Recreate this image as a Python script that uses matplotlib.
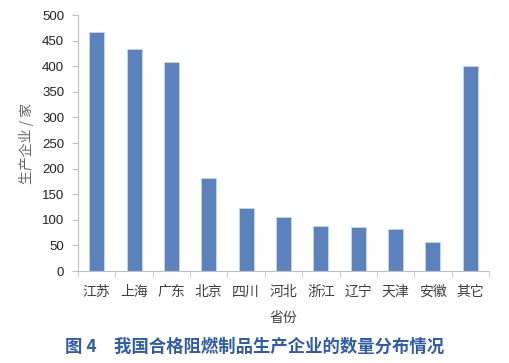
import numpy as np
import matplotlib.pyplot as plt

plt.rcParams['font.family'] = ['Liberation Sans', 'Noto Sans CJK SC', 'DejaVu Sans']

provinces = ['江苏', '上海', '广东', '北京', '四川', '河北', '浙江', '辽宁', '天津', '安徽', '其它']
counts = [466, 433, 409, 181, 123, 105, 87, 85, 82, 57, 400]
yticks = [0, 50, 100, 150, 200, 250, 300, 350, 400, 450, 500]

bar_color = '#5b82bd'
axis_gray = '#bfbfbf'
text_gray = '#404040'
cjk = ['Noto Sans CJK SC', 'DejaVu Sans']

fig = plt.figure(figsize=(5.1, 3.63), dpi=100)
ax = fig.add_axes([78 / 510, 1 - 271 / 363, 411 / 510, 256 / 363])

x = np.arange(len(provinces))
ax.bar(x, counts, width=0.4, color=bar_color, edgecolor='#c9d6ea', linewidth=0.6)

ax.set_xlim(-0.5, len(provinces) - 0.5)
ax.set_ylim(0, 500)
ax.set_yticks(yticks)
ax.set_yticklabels([str(v) for v in yticks], fontsize=9.5, color='#222222')

ax.set_xticks(x)
ax.set_xticklabels(provinces, fontsize=10, color=text_gray, family=cjk)
ax.set_xticks(np.arange(-0.5, len(provinces)), minor=True)
ax.tick_params(axis='x', which='major', length=0, pad=10)
ax.tick_params(axis='x', which='minor', length=4, color=axis_gray, direction='out')
ax.tick_params(axis='y', length=4, color=axis_gray, pad=6)

for s in ['top', 'right']:
    ax.spines[s].set_visible(False)
ax.spines['left'].set_color(axis_gray)
ax.spines['bottom'].set_color(axis_gray)

ax.set_ylabel('生产企业 / 家', fontsize=10, color='#666666', family=cjk, labelpad=6)
ax.set_xlabel('省份', fontsize=10, color=text_gray, family=cjk, labelpad=9)

fig.text(0.5, 1 - 347 / 363, '图 4　我国合格阻燃制品生产企业的数量分布情况',
         ha='center', va='center', fontsize=12.5, fontweight='bold', color='#2f5ca8',
         family=cjk)

fig.savefig('out.png', dpi=100)
